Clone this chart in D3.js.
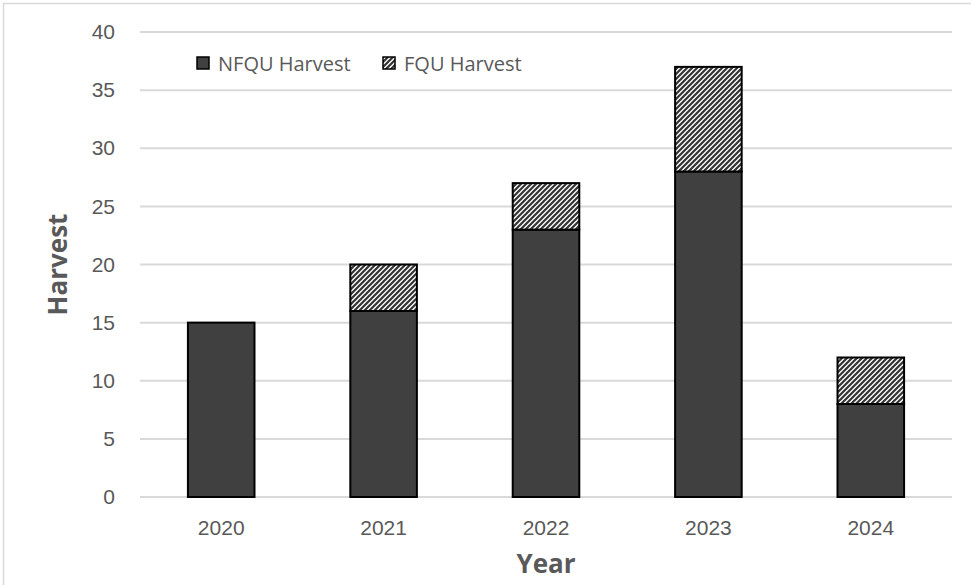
<!DOCTYPE html>
<html><head><meta charset="utf-8">
<script src="https://cdn.jsdelivr.net/npm/d3@7"></script>
<style>body{margin:0;background:#fff;}svg{display:block;font-family:"Open Sans","Liberation Sans",Arial,sans-serif;}</style>
</head><body>
<svg id="c" width="971" height="585"></svg>
<script>
const years = ["2020","2021","2022","2023","2024"];
const nfqu = [15,16,23,28,8];
const fqu = [0,4,4,9,4];
const yTicks = [0,5,10,15,20,25,30,35,40];
const seriesNames = ["NFQU Harvest","FQU Harvest"];

const svg = d3.select("#c");
const margin = {left:140, right:19, top:32, bottom:88};
const W = 971, H = 585;

const defs = svg.append("defs");
const pat = defs.append("pattern").attr("id","hatch").attr("patternUnits","userSpaceOnUse")
  .attr("width",5).attr("height",5);
pat.append("rect").attr("width",5).attr("height",5).attr("fill","#fff");
pat.append("path").attr("d","M-1,1 l2,-2 M0,5 l5,-5 M4,6 l2,-2")
  .attr("stroke","#333").attr("stroke-width",2.2);

svg.append("rect").attr("x",3.5).attr("y",3.5).attr("width",990).attr("height",600)
  .attr("fill","none").attr("stroke","#d9d9d9").attr("stroke-width",1.5);

const x = d3.scaleBand().domain(years).range([margin.left, W-margin.right]).paddingInner(0.59).paddingOuter(0.295);
const y = d3.scaleLinear().domain([0,40]).range([H-margin.bottom, margin.top]);

const grid = svg.append("g");
grid.selectAll("line").data(yTicks).join("line")
  .attr("x1",margin.left).attr("x2",W-margin.right)
  .attr("y1",d=>y(d)).attr("y2",d=>y(d))
  .attr("stroke","#d9d9d9").attr("stroke-width",2);

const yAxis = svg.append("g").attr("transform",`translate(${margin.left},0)`)
  .call(d3.axisLeft(y).tickValues(yTicks).tickSize(0).tickPadding(25));
yAxis.select(".domain").remove();
yAxis.selectAll("text").attr("font-size",21).attr("fill","#595959");

const xAxis = svg.append("g").attr("transform",`translate(0,${H-margin.bottom})`)
  .call(d3.axisBottom(x).tickSize(0).tickPadding(23));
xAxis.select(".domain").remove();
xAxis.selectAll("text").attr("font-size",21).attr("fill","#595959");

const bars = svg.append("g");
years.forEach((yr,i)=>{
  bars.append("rect").attr("x",x(yr)).attr("width",x.bandwidth())
    .attr("y",y(nfqu[i])).attr("height",y(0)-y(nfqu[i]))
    .attr("fill","#404040").attr("stroke","#000").attr("stroke-width",2);
  if (fqu[i]>0) {
    bars.append("rect").attr("x",x(yr)).attr("width",x.bandwidth())
      .attr("y",y(nfqu[i]+fqu[i])).attr("height",y(nfqu[i])-y(nfqu[i]+fqu[i]))
      .attr("fill","url(#hatch)").attr("stroke","#000").attr("stroke-width",2);
  }
});

svg.append("text").attr("transform",`translate(67,${(y(0)+y(40))/2}) rotate(-90)`)
  .attr("text-anchor","middle").attr("font-size",26).attr("font-weight","bold")
  .attr("fill","#595959").text("Harvest");
svg.append("text").attr("x",546).attr("y",573)
  .attr("text-anchor","middle").attr("font-size",26).attr("font-weight","bold")
  .attr("fill","#595959").text("Year");

const leg = svg.append("g");
const legX = [197, 383];
seriesNames.forEach((n,i)=>{
  leg.append("rect").attr("x",legX[i]).attr("y",57).attr("width",12).attr("height",12)
    .attr("fill", i===0?"#404040":"url(#hatch)").attr("stroke","#000").attr("stroke-width",1.5);
  leg.append("text").attr("x",legX[i]+21).attr("y",71).attr("font-size",20)
    .attr("fill","#595959").text(n);
});
</script>
</body></html>
